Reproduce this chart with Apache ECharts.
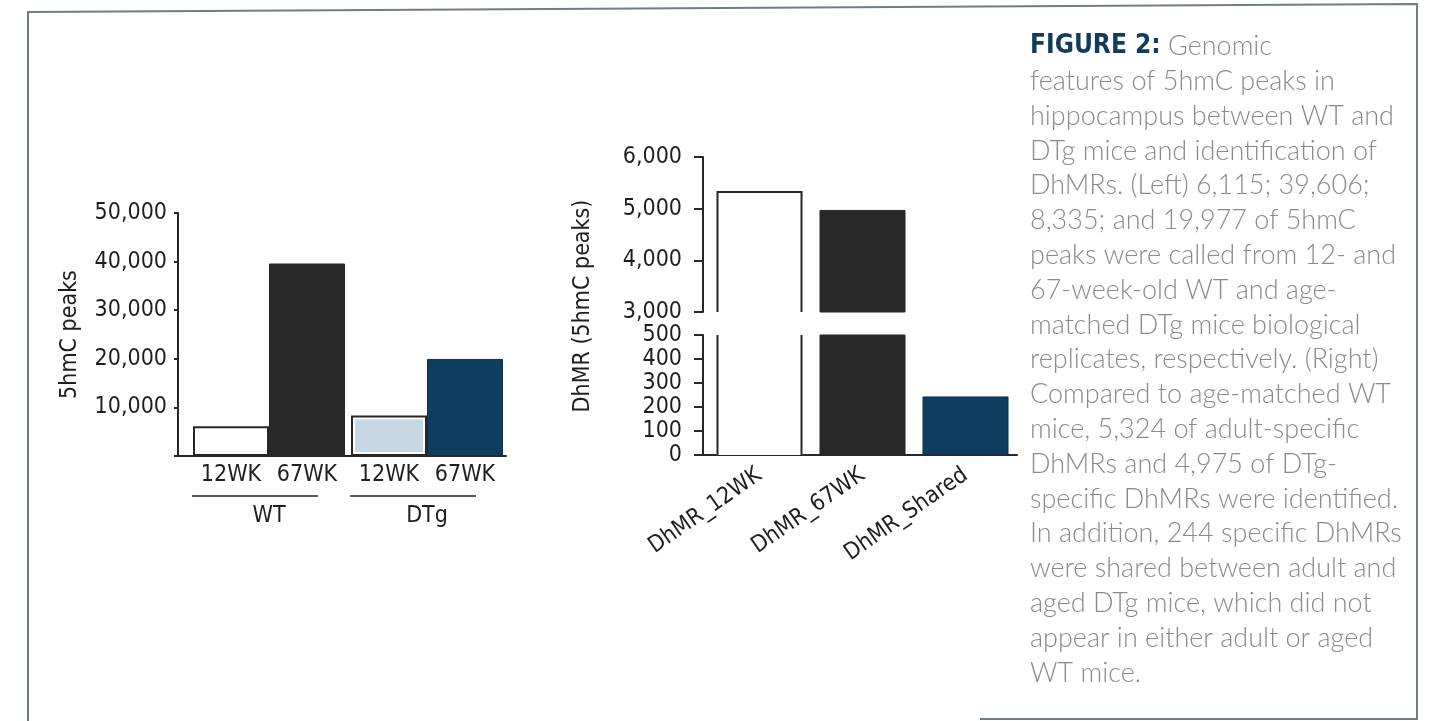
<!DOCTYPE html>
<html>
<head>
<meta charset="utf-8">
<script src="https://cdn.jsdelivr.net/npm/echarts@6/dist/echarts.min.js"></script>
<style>
  html, body { margin: 0; padding: 0; background: #fff; }
  #chart { width: 1430px; height: 721px; }
</style>
</head>
<body>
<div id="chart"></div>
<script>
// 5hmC peak counts per genotype and age
const groups = ['WT', 'DTg'];
const ages = ['12WK', '67WK'];
const peaks12wk = [6115, 8335];
const peaks67wk = [39606, 19977];
const peakAxis = { min: 0, max: 50000, interval: 10000 };

// DhMR counts, drawn on a broken axis (two stacked grids)
const dhmrCats = ['DhMR_12WK', 'DhMR_67WK', 'DhMR_Shared'];
const dhmrCounts = [5324, 4975, 244];
const upperAxis = { min: 3000, max: 6000, interval: 1000 };
const lowerAxis = { min: 0, max: 500, interval: 100 };

const captionLines = [
  'features of 5hmC peaks in',
  'hippocampus between WT and',
  'DTg mice and identification of',
  'DhMRs. (Left) 6,115; 39,606;',
  '8,335; and 19,977 of 5hmC',
  'peaks were called from 12- and',
  '67-week-old WT and age-',
  'matched DTg mice biological',
  'replicates, respectively. (Right)',
  'Compared to age-matched WT',
  'mice, 5,324 of adult-specific',
  'DhMRs and 4,975 of DTg-',
  'specific DhMRs were identified.',
  'In addition, 244 specific DhMRs',
  'were shared between adult and',
  'aged DTg mice, which did not',
  'appear in either adult or aged',
  'WT mice.'
];

const NARROW = '"Liberation Sans Narrow", "DejaVu Sans Condensed", Roboto, sans-serif';
const BODY = 'Lato, "Open Sans", sans-serif';
const INK = '#1e1e1e';
const DARK = '#272727';
const NAVY = '#0f3d60';
const LIGHT = '#c6d8e4';
const FS = 23;
const GROUP_GAP = 0.038;
const DHMR_BAR = 0.835;

const fmt = v => v.toLocaleString('en-US');

const chart = echarts.init(document.getElementById('chart'), null, { renderer: 'canvas' });

const axisLineStyle = { color: DARK, width: 2 };

const leftGrid = { left: 190, top: 213, width: 316, height: 243 };
const rightLeft = 708;

const item12 = [
  { color: '#ffffff', borderColor: DARK, borderWidth: 2 },
  { color: '#ffffff', borderColor: DARK, borderWidth: 2 }
];
const item67 = [
  { color: DARK, borderColor: DARK, borderWidth: 1 },
  { color: NAVY, borderColor: '#0b2e49', borderWidth: 1 }
];
// the open (white) DhMR bar gets its outline from the custom series below
const dhmrStyles = [
  { color: '#ffffff', borderWidth: 0 },
  { color: DARK, borderColor: DARK, borderWidth: 1 },
  { color: NAVY, borderColor: '#0b2e49', borderWidth: 1 }
];

const barLabel = {
  show: true, position: 'bottom', distance: 8, formatter: '{a}',
  fontFamily: NARROW, fontSize: FS, color: INK
};

// Outline for a bar that crosses the axis break: sides and top only,
// limited to the visible range of the grid it sits in.
function openOutline(range) {
  return (params, api) => {
    const idx = api.value(0), v = api.value(1);
    const cx = api.coord([idx, range.min])[0];
    const half = api.size([1, 0])[0] * DHMR_BAR / 2 - 1;
    const l = cx - half, r = cx + half;
    const yLo = api.coord([idx, Math.max(0, range.min)])[1];
    const yHi = api.coord([idx, Math.min(v, range.max)])[1];
    const style = { stroke: DARK, lineWidth: 2, fill: null };
    if (v <= range.max) {
      return { type: 'polyline', shape: { points: [[l, yLo], [l, yHi], [r, yHi], [r, yLo]] }, style };
    }
    return {
      type: 'group', children: [
        { type: 'line', shape: { x1: l, y1: yLo, x2: l, y2: yHi }, style },
        { type: 'line', shape: { x1: r, y1: yLo, x2: r, y2: yHi }, style }
      ]
    };
  };
}

function dhmrAxis(gridIndex, range) {
  return {
    gridIndex, type: 'value', min: range.min, max: range.max, interval: range.interval,
    offset: 5,
    axisLine: { show: true, lineStyle: axisLineStyle },
    axisTick: { show: true, length: 9, lineStyle: axisLineStyle },
    splitLine: { show: false },
    axisLabel: { margin: 21, fontFamily: NARROW, fontSize: FS, color: INK, formatter: fmt,
      showMinLabel: true, showMaxLabel: true, hideOverlap: false }
  };
}

const option = {
  backgroundColor: '#ffffff',
  animation: false,
  textStyle: { fontFamily: NARROW },
  grid: [
    leftGrid,
    { left: rightLeft, top: 157, width: 309, height: 155 },
    { left: rightLeft, top: 335, width: 309, height: 120 }
  ],
  xAxis: [
    {
      gridIndex: 0, type: 'category', data: groups,
      axisLine: { lineStyle: axisLineStyle }, axisTick: { show: false },
      axisLabel: {
        margin: 38, interval: 0,
        formatter: v => '{ln|}{sp|}\n{g|' + v + '}',
        rich: {
          ln: { width: 126, height: 2, lineHeight: 4, backgroundColor: '#5a5a5a' },
          sp: { width: 28, height: 2, lineHeight: 4 },
          g: { fontFamily: NARROW, fontSize: FS, color: INK, lineHeight: 36 }
        }
      }
    },
    { gridIndex: 1, type: 'category', data: dhmrCats, show: false },
    {
      gridIndex: 2, type: 'category', data: dhmrCats,
      axisLine: { lineStyle: axisLineStyle }, axisTick: { show: false },
      axisLabel: { rotate: 35, margin: 18, interval: 0, fontFamily: NARROW, fontSize: FS, color: INK }
    }
  ],
  yAxis: [
    {
      gridIndex: 0, type: 'value', min: peakAxis.min, max: peakAxis.max, interval: peakAxis.interval,
      offset: 12,
      axisLine: { show: true, lineStyle: axisLineStyle },
      axisTick: { show: true, length: 4, lineStyle: axisLineStyle },
      splitLine: { show: false },
      axisLabel: { margin: 11, fontFamily: NARROW, fontSize: FS, color: INK,
        formatter: v => (v === 0 ? '' : fmt(v)) },
      name: '5hmC peaks', nameLocation: 'middle', nameGap: 96,
      nameTextStyle: { fontFamily: NARROW, fontSize: FS, color: INK }
    },
    dhmrAxis(1, upperAxis),
    dhmrAxis(2, lowerAxis)
  ],
  series: [
    {
      name: ages[0], type: 'bar', xAxisIndex: 0, yAxisIndex: 0,
      barGap: 0, barCategoryGap: (GROUP_GAP * 100) + '%',
      data: peaks12wk.map((v, i) => ({ value: v, itemStyle: item12[i] })),
      label: barLabel
    },
    {
      name: ages[1], type: 'bar', xAxisIndex: 0, yAxisIndex: 0,
      barGap: 0, barCategoryGap: (GROUP_GAP * 100) + '%',
      data: peaks67wk.map((v, i) => ({ value: v, itemStyle: item67[i] })),
      label: barLabel
    },
    {
      // light-blue fill inset inside the outlined DTg 12WK bar
      name: 'DTg 12WK fill', type: 'custom', xAxisIndex: 0, yAxisIndex: 0, z: 3,
      data: [[1, peaks12wk[1]]],
      renderItem: (params, api) => {
        const top = api.coord([api.value(0), api.value(1)]);
        const base = api.coord([api.value(0), 0]);
        const band = api.size([1, 0])[0];
        const w = band * (1 - GROUP_GAP) / 2;
        const inset = 4;
        return {
          type: 'rect',
          shape: { x: top[0] - w + inset, y: top[1] + inset, width: w - 2 * inset, height: base[1] - top[1] - 2 * inset },
          style: { fill: LIGHT }
        };
      }
    },
    {
      name: 'DhMR upper', type: 'bar', xAxisIndex: 1, yAxisIndex: 1, barWidth: (DHMR_BAR * 100) + '%', clip: true,
      data: dhmrCounts.map((v, i) => ({ value: v, itemStyle: dhmrStyles[i] }))
    },
    {
      name: 'DhMR lower', type: 'bar', xAxisIndex: 2, yAxisIndex: 2, barWidth: (DHMR_BAR * 100) + '%', clip: true,
      data: dhmrCounts.map((v, i) => ({ value: v, itemStyle: dhmrStyles[i] }))
    },
    {
      name: 'DhMR_12WK outline upper', type: 'custom', xAxisIndex: 1, yAxisIndex: 1, z: 3,
      data: [[0, dhmrCounts[0]]], renderItem: openOutline(upperAxis)
    },
    {
      name: 'DhMR_12WK outline lower', type: 'custom', xAxisIndex: 2, yAxisIndex: 2, z: 3,
      data: [[0, dhmrCounts[0]]], renderItem: openOutline(lowerAxis)
    }
  ]
};

chart.setOption(option);

// Decorations that depend on the axes' pixel positions
const leftZero = chart.convertToPixel({ yAxisIndex: 0 }, 0);
const rightZero = chart.convertToPixel({ yAxisIndex: 2 }, 0);
const upperTop = chart.convertToPixel({ yAxisIndex: 1 }, upperAxis.max);
const rightAxisX = rightLeft - 5;

const captionText = '{b|FIGURE 2:}{n| Genomic}\n' + captionLines.map(l => '{n|' + l + '}').join('\n');

chart.setOption({
  graphic: [
    {
      type: 'polyline', silent: true,
      shape: { points: [[28, 721], [28, 12], [1417, 4], [1417, 719], [980, 719]] },
      style: { stroke: '#6f7c89', lineWidth: 2, fill: null }
    },
    {
      type: 'line', silent: true,
      shape: { x1: leftGrid.left - 12, y1: leftZero, x2: leftGrid.left, y2: leftZero },
      style: { stroke: DARK, lineWidth: 2 }
    },
    {
      type: 'line', silent: true,
      shape: { x1: rightAxisX, y1: rightZero, x2: rightLeft, y2: rightZero },
      style: { stroke: DARK, lineWidth: 2 }
    },
    {
      type: 'text', silent: true,
      x: 583, y: (upperTop + rightZero) / 2, rotation: Math.PI / 2,
      style: { text: 'DhMR (5hmC peaks)', fontFamily: NARROW, fontSize: FS, fill: INK,
        align: 'center', verticalAlign: 'middle' }
    },
    {
      type: 'text', silent: true, x: 1030, y: 29,
      style: {
        text: captionText,
        rich: {
          b: { fontFamily: NARROW, fontWeight: 'bold', fontSize: 26, fill: '#123b5e', lineHeight: 34.8 },
          n: { fontFamily: BODY, fontWeight: 300, fontSize: 27, fill: '#8a8a8a', lineHeight: 34.8 }
        }
      }
    }
  ]
});
</script>
</body>
</html>
